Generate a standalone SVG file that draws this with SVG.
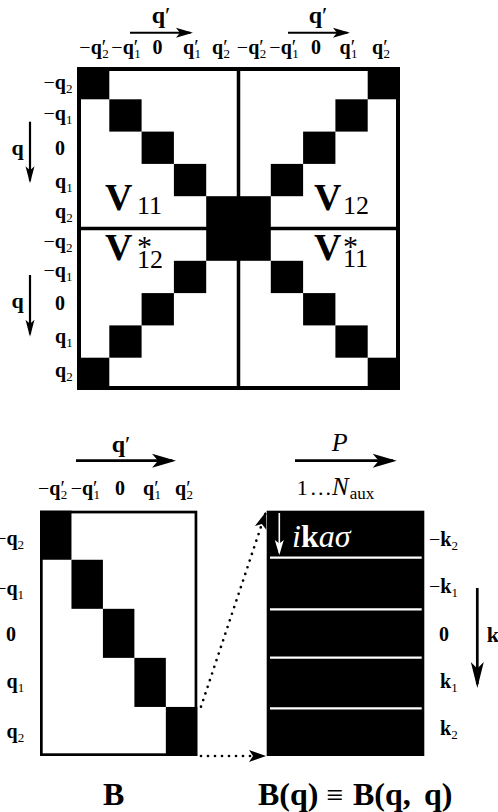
<svg xmlns="http://www.w3.org/2000/svg" width="498" height="812" viewBox="0 0 498 812">
<defs>
<style>
.t{font-family:"Liberation Serif","Times New Roman",serif;fill:#000}
.lb{font-size:20px;font-weight:bold}
.s{font-size:13px;font-weight:normal}
.n{font-weight:normal}
.blk{fill:#000}
.ln{stroke:#000;fill:none}
.dot{stroke:#000;stroke-width:2.7;stroke-dasharray:0 7;stroke-linecap:round;fill:none}
</style>
<marker id="aS" markerUnits="userSpaceOnUse" markerWidth="17" markerHeight="10" refX="14.45" refY="5" orient="auto" overflow="visible"><path d="M0,0 L17,5 L0,10 L4,5 z" fill="#000"/></marker>
<marker id="aL" markerUnits="userSpaceOnUse" markerWidth="24" markerHeight="14" refX="20.4" refY="7" orient="auto" overflow="visible"><path d="M0,0 L24,7 L0,14 L6,7 z" fill="#000"/></marker>
<marker id="aV" markerUnits="userSpaceOnUse" markerWidth="17" markerHeight="9" refX="14.45" refY="4.5" orient="auto" overflow="visible"><path d="M0,0 L17,4.5 L0,9 L4,4.5 z" fill="#000"/></marker>
<marker id="aK" markerUnits="userSpaceOnUse" markerWidth="26" markerHeight="13" refX="22.1" refY="6.5" orient="auto" overflow="visible"><path d="M0,0 L26,6.5 L0,13 L6.5,6.5 z" fill="#000"/></marker>
<marker id="aW" markerUnits="userSpaceOnUse" markerWidth="15" markerHeight="9" refX="12.75" refY="4.5" orient="auto" overflow="visible"><path d="M0,0 L15,4.5 L0,9 L3.5,4.5 z" fill="#fff"/></marker>
<marker id="aD" markerUnits="userSpaceOnUse" markerWidth="17" markerHeight="12" refX="14.45" refY="6" orient="auto" overflow="visible"><path d="M0,0 L17,6 L0,12 L4,6 z" fill="#000"/></marker>
</defs>
<rect width="498" height="812" fill="#fff"/>

<g id="matrixV">
<rect x="77" y="67" width="323" height="323" fill="#fff"/>
<rect class="blk" x="77" y="67" width="32.3" height="32.3"/>
<rect class="blk" x="367.7" y="67" width="32.3" height="32.3"/>
<rect class="blk" x="109.3" y="99.3" width="32.3" height="32.3"/>
<rect class="blk" x="335.4" y="99.3" width="32.3" height="32.3"/>
<rect class="blk" x="141.6" y="131.6" width="32.3" height="32.3"/>
<rect class="blk" x="303.1" y="131.6" width="32.3" height="32.3"/>
<rect class="blk" x="173.9" y="163.9" width="32.3" height="32.3"/>
<rect class="blk" x="270.8" y="163.9" width="32.3" height="32.3"/>
<rect class="blk" x="206.2" y="196.2" width="64.6" height="64.6"/>
<rect class="blk" x="173.9" y="260.8" width="32.3" height="32.3"/>
<rect class="blk" x="270.8" y="260.8" width="32.3" height="32.3"/>
<rect class="blk" x="141.6" y="293.1" width="32.3" height="32.3"/>
<rect class="blk" x="303.1" y="293.1" width="32.3" height="32.3"/>
<rect class="blk" x="109.3" y="325.4" width="32.3" height="32.3"/>
<rect class="blk" x="335.4" y="325.4" width="32.3" height="32.3"/>
<rect class="blk" x="77" y="357.7" width="32.3" height="32.3"/>
<rect class="blk" x="367.7" y="357.7" width="32.3" height="32.3"/>
<rect class="ln" x="79" y="69" width="319" height="319" stroke-width="4"/>
<line class="ln" x1="238.5" y1="67" x2="238.5" y2="390" stroke-width="3.5"/>
<line class="ln" x1="77" y1="228.5" x2="400" y2="228.5" stroke-width="3.5"/>
<text class="t" x="105" y="210" font-size="38" font-weight="bold">V</text>
<text class="t" x="137" y="213.5" font-size="26">11</text>
<text class="t" x="314" y="210" font-size="38" font-weight="bold">V</text>
<text class="t" x="343" y="214" font-size="26">12</text>
<text class="t" x="105" y="260" font-size="38" font-weight="bold">V</text>
<text class="t" x="137" y="256" font-size="30">*</text>
<text class="t" x="137" y="268.3" font-size="26">12</text>
<text class="t" x="314" y="260" font-size="38" font-weight="bold">V</text>
<text class="t" x="343" y="256" font-size="30">*</text>
<text class="t" x="343" y="267" font-size="26">11</text>
</g>

<g id="colLabelsV">
<text class="t lb" x="94" y="54" text-anchor="middle"><tspan class="n">−</tspan>q<tspan class="n">′</tspan><tspan class="s" dx="-4" dy="4">2</tspan></text>
<text class="t lb" x="126" y="54" text-anchor="middle"><tspan class="n">−</tspan>q<tspan class="n">′</tspan><tspan class="s" dx="-4" dy="4">1</tspan></text>
<text class="t lb" x="157.5" y="54" text-anchor="middle">0</text>
<text class="t lb" x="192" y="54" text-anchor="middle">q<tspan class="n">′</tspan><tspan class="s" dx="-4" dy="4">1</tspan></text>
<text class="t lb" x="221" y="54" text-anchor="middle">q<tspan class="n">′</tspan><tspan class="s" dx="-4" dy="4">2</tspan></text>
<text class="t lb" x="251.5" y="54" text-anchor="middle"><tspan class="n">−</tspan>q<tspan class="n">′</tspan><tspan class="s" dx="-4" dy="4">2</tspan></text>
<text class="t lb" x="284" y="54" text-anchor="middle"><tspan class="n">−</tspan>q<tspan class="n">′</tspan><tspan class="s" dx="-4" dy="4">1</tspan></text>
<text class="t lb" x="316" y="54" text-anchor="middle">0</text>
<text class="t lb" x="348.5" y="54" text-anchor="middle">q<tspan class="n">′</tspan><tspan class="s" dx="-4" dy="4">1</tspan></text>
<text class="t lb" x="381" y="54" text-anchor="middle">q<tspan class="n">′</tspan><tspan class="s" dx="-4" dy="4">2</tspan></text>
<text class="t" x="161" y="23" font-size="24" font-weight="bold" text-anchor="middle">q<tspan font-weight="normal">′</tspan></text>
<text class="t" x="318" y="23" font-size="24" font-weight="bold" text-anchor="middle">q<tspan font-weight="normal">′</tspan></text>
<line class="ln" x1="130" y1="32.7" x2="190.4" y2="32.7" stroke-width="2" marker-end="url(#aS)"/>
<line class="ln" x1="288" y1="32.7" x2="347.4" y2="32.7" stroke-width="2" marker-end="url(#aS)"/>
</g>

<g id="rowLabelsV">
<text class="t lb" x="43.5" y="89"><tspan class="n">−</tspan>q<tspan class="s" dy="4">2</tspan></text>
<text class="t lb" x="43.5" y="120"><tspan class="n">−</tspan>q<tspan class="s" dy="4">1</tspan></text>
<text class="t lb" x="55" y="155">0</text>
<text class="t lb" x="55" y="188">q<tspan class="s" dy="4">1</tspan></text>
<text class="t lb" x="55" y="218">q<tspan class="s" dy="4">2</tspan></text>
<text class="t lb" x="43.5" y="248"><tspan class="n">−</tspan>q<tspan class="s" dy="4">2</tspan></text>
<text class="t lb" x="43.5" y="277"><tspan class="n">−</tspan>q<tspan class="s" dy="4">1</tspan></text>
<text class="t lb" x="55" y="310">0</text>
<text class="t lb" x="55" y="343">q<tspan class="s" dy="4">1</tspan></text>
<text class="t lb" x="55" y="377">q<tspan class="s" dy="4">2</tspan></text>
<text class="t" x="11.5" y="155" font-size="22" font-weight="bold">q</text>
<text class="t" x="11.5" y="308" font-size="22" font-weight="bold">q</text>
<line class="ln" x1="30" y1="121.7" x2="30" y2="180.7" stroke-width="2.2" marker-end="url(#aV)"/>
<line class="ln" x1="30" y1="275" x2="30" y2="334.1" stroke-width="2.2" marker-end="url(#aV)"/>
</g>

<g id="matrixB">
<rect x="40" y="510.7" width="157.3" height="245.3" fill="#fff"/>
<rect class="blk" x="40" y="510.7" width="31.46" height="49.06"/>
<rect class="blk" x="71.46" y="559.76" width="31.46" height="49.06"/>
<rect class="blk" x="102.92" y="608.82" width="31.46" height="49.06"/>
<rect class="blk" x="134.38" y="657.88" width="31.46" height="49.06"/>
<rect class="blk" x="165.84" y="706.94" width="31.46" height="49.06"/>
<rect class="ln" x="41.35" y="512.05" width="154.6" height="242.6" stroke-width="2.7"/>
<text class="t lb" x="38" y="495"><tspan class="n">−</tspan>q<tspan class="n">′</tspan><tspan class="s" dx="-4" dy="4">2</tspan></text>
<text class="t lb" x="70.7" y="495"><tspan class="n">−</tspan>q<tspan class="n">′</tspan><tspan class="s" dx="-4" dy="4">1</tspan></text>
<text class="t lb" x="115" y="495">0</text>
<text class="t lb" x="143" y="495">q<tspan class="n">′</tspan><tspan class="s" dx="-4" dy="4">1</tspan></text>
<text class="t lb" x="175" y="495">q<tspan class="n">′</tspan><tspan class="s" dx="-4" dy="4">2</tspan></text>
<text class="t lb" x="-4.8" y="545"><tspan class="n">−</tspan>q<tspan class="s" dy="4">2</tspan></text>
<text class="t lb" x="-4.8" y="595"><tspan class="n">−</tspan>q<tspan class="s" dy="4">1</tspan></text>
<text class="t lb" x="6" y="641">0</text>
<text class="t lb" x="6.5" y="688">q<tspan class="s" dy="4">1</tspan></text>
<text class="t lb" x="6.5" y="738">q<tspan class="s" dy="4">2</tspan></text>
<text class="t" x="121" y="452" font-size="24" font-weight="bold" text-anchor="middle">q<tspan font-weight="normal">′</tspan></text>
<line class="ln" x1="76" y1="460.7" x2="172.4" y2="460.7" stroke-width="2.7" marker-end="url(#aL)"/>
<text class="t" x="103" y="805" font-size="32" font-weight="bold">B</text>
</g>

<g id="matrixBq">
<rect x="266.7" y="510.7" width="157.6" height="245.3" fill="#000"/>
<line x1="270" y1="557.7" x2="421.7" y2="557.7" stroke="#fff" stroke-width="2.2"/>
<line x1="270" y1="609.3" x2="421.7" y2="609.3" stroke="#fff" stroke-width="2.2"/>
<line x1="270" y1="657.7" x2="421.7" y2="657.7" stroke="#fff" stroke-width="2.2"/>
<line x1="270" y1="708.3" x2="421.7" y2="708.3" stroke="#fff" stroke-width="2.2"/>
<line x1="279.3" y1="513" x2="279.3" y2="552.75" stroke="#fff" stroke-width="1.6" marker-end="url(#aW)"/>
<text class="t" x="292" y="547" font-size="32" style="fill:#fff"><tspan font-style="italic">i</tspan><tspan font-weight="bold">k</tspan><tspan font-style="italic">aσ</tspan></text>
<text class="t" x="296.7" y="495" font-size="22">1<tspan x="310.5">.</tspan><tspan x="318">.</tspan><tspan x="325.5">.</tspan><tspan x="332" font-style="italic" font-size="25">N</tspan><tspan dx="1" dy="4" font-size="17">aux</tspan></text>
<text class="t" x="331.7" y="450.7" font-size="26" font-style="italic">P</text>
<line class="ln" x1="295" y1="460.7" x2="393.1" y2="460.7" stroke-width="2.7" marker-end="url(#aL)"/>
<text class="t lb" x="429" y="546"><tspan class="n">−</tspan>k<tspan class="s" dy="4">2</tspan></text>
<text class="t lb" x="429" y="593"><tspan class="n">−</tspan>k<tspan class="s" dy="4">1</tspan></text>
<text class="t lb" x="439" y="641">0</text>
<text class="t lb" x="440" y="688">k<tspan class="s" dy="4">1</tspan></text>
<text class="t lb" x="440" y="735">k<tspan class="s" dy="4">2</tspan></text>
<text class="t" x="486.7" y="642" font-size="22" font-weight="bold">k</text>
<line class="ln" x1="477.3" y1="588" x2="477.3" y2="684.1" stroke-width="2.7" marker-end="url(#aK)"/>
<text class="t" x="258" y="805" font-size="32" font-weight="bold">B(q)</text>
<text class="t" x="326.5" y="805" font-size="30">≡</text>
<text class="t" x="353" y="805" font-size="32" font-weight="bold">B(q,<tspan x="424">q)</tspan></text>
</g>

<g id="connectors">
<line class="dot" x1="201" y1="706.7" x2="265.2" y2="514.1" marker-end="url(#aD)"/>
<line class="dot" x1="201" y1="756" x2="263.45" y2="756" marker-end="url(#aD)"/>
</g>
</svg>
